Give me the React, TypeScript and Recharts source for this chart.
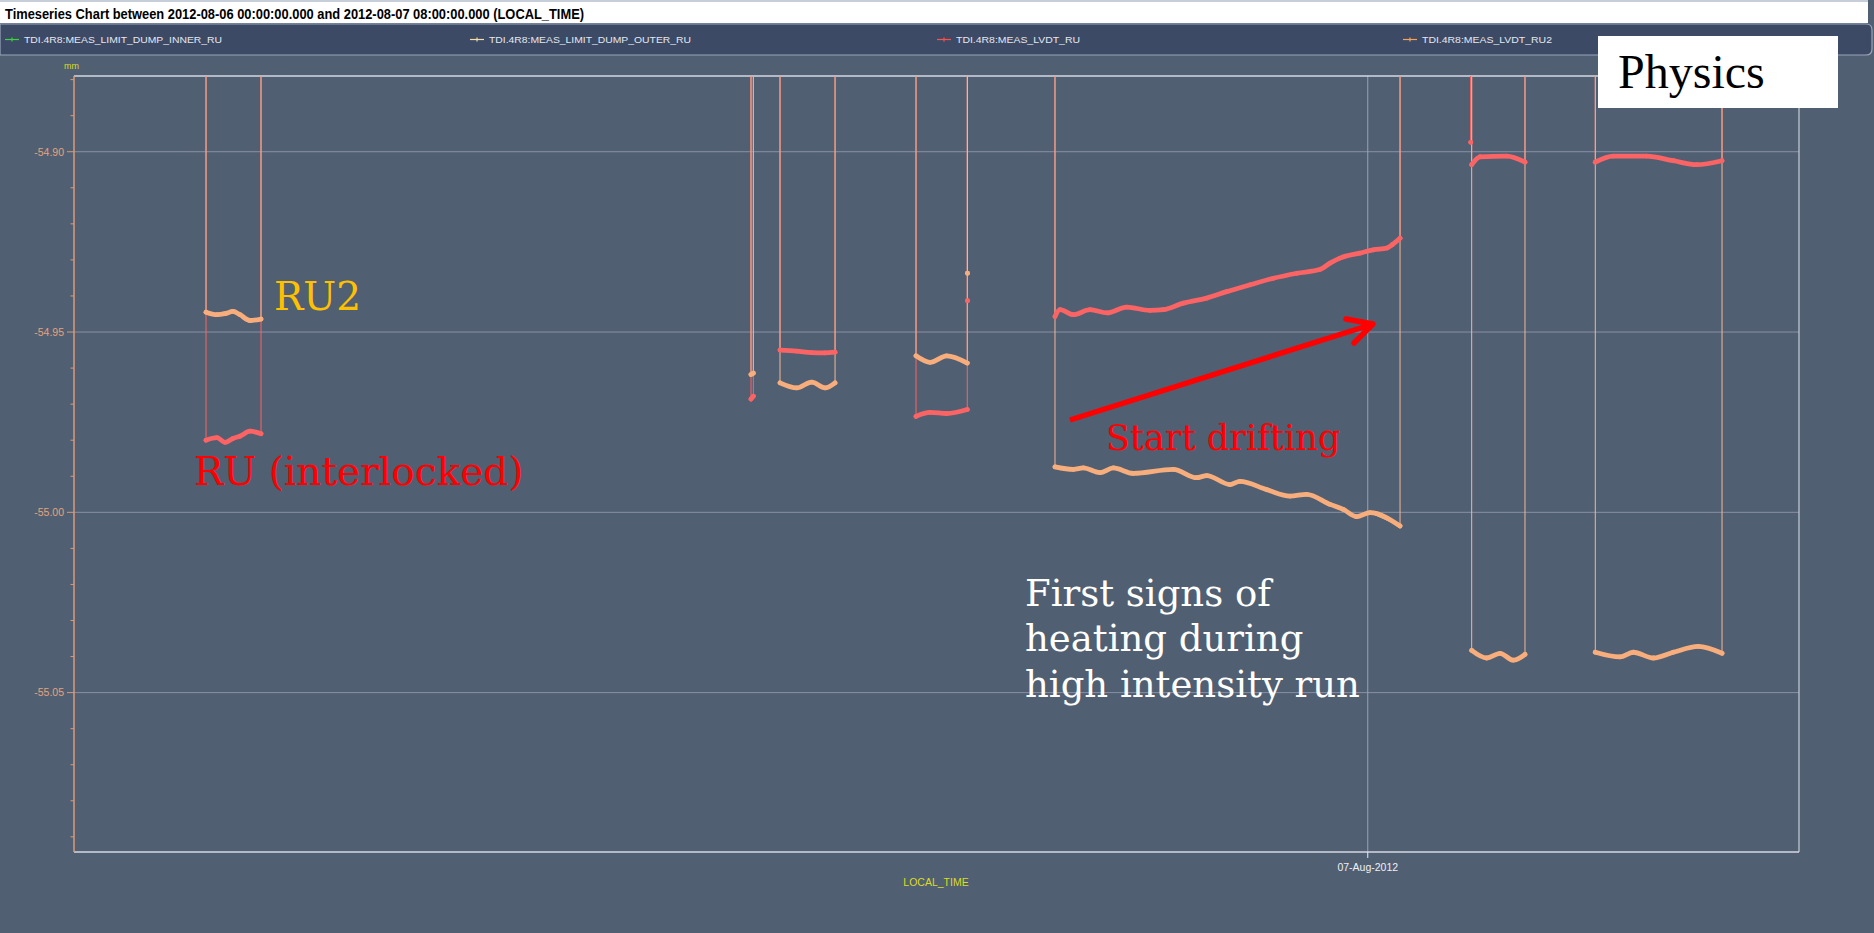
import React from 'react';
import { LineChart, Line, XAxis, YAxis, ReferenceLine } from 'recharts';

// time axis: hours since 2012-08-06 00:00 (LOCAL_TIME)
const timeDomain: [number, number] = [0, 32];
const xTicks = [24];
const xTickLabels = ['07-Aug-2012'];

// position axis in mm
const yDomain: [number, number] = [-55.0942, -54.879];
const yTicks = [
  -55.09, -55.08, -55.07, -55.06, -55.05, -55.04, -55.03, -55.02, -55.01, -55.0,
  -54.99, -54.98, -54.97, -54.96, -54.95, -54.94, -54.93, -54.92, -54.91, -54.9,
  -54.89, -54.88,
];
const yMajorTicks = [-55.05, -55.0, -54.95, -54.9];

// reading while the jaw is retracted, well above the plotted window
const PARKED = -54.6;

type Period = [number, number][];

// TDI.4R8:MEAS_LVDT_RU, one [hour, mm] list per period in position
const ruPeriods: Period[] = [
  [[2.449, -54.98], [2.653, -54.9793], [2.801, -54.9806], [2.95, -54.9795], [3.079, -54.9789], [3.265, -54.9775], [3.469, -54.9782]],
  [[12.559, -54.9686], [12.602, -54.9678]],
  [[13.097, -54.955], [13.407, -54.9553], [13.685, -54.9557], [13.932, -54.9558], [14.118, -54.9556]],
  [[15.62, -54.9734], [15.88, -54.9723], [16.189, -54.9726], [16.571, -54.9715]],
  [[16.575, -54.9413]],
  [
    [18.198, -54.9457], [18.291, -54.9438], [18.538, -54.9452], [18.848, -54.9438], [19.166, -54.9447],
    [19.528, -54.9431], [19.961, -54.944], [20.208, -54.9438], [20.579, -54.942], [21.013, -54.9406],
    [21.384, -54.9388], [21.817, -54.9369], [22.249, -54.9351], [22.69, -54.9337], [23.122, -54.9326],
    [23.3, -54.9309], [23.485, -54.9295], [23.856, -54.9281], [24.103, -54.9272], [24.36, -54.9267],
    [24.454, -54.9258], [24.599, -54.924],
  ],
  [[25.91, -54.8974]],
  [[25.928, -54.9036], [26.083, -54.9014], [26.578, -54.9012], [26.917, -54.9029]],
  [[28.221, -54.9029], [28.555, -54.9012], [29.175, -54.9012], [29.669, -54.9025], [30.103, -54.9036], [30.572, -54.9025]],
];

// TDI.4R8:MEAS_LVDT_RU2
const ru2Periods: Period[] = [
  [[2.449, -54.9445], [2.653, -54.9452], [2.801, -54.9449], [2.95, -54.9443], [3.079, -54.9452], [3.265, -54.9468], [3.469, -54.9464]],
  [[12.559, -54.9618], [12.602, -54.9614]],
  [[13.097, -54.9641], [13.407, -54.9655], [13.685, -54.9639], [13.932, -54.9655], [14.118, -54.9641]],
  [[15.62, -54.9566], [15.88, -54.9584], [16.189, -54.9566], [16.571, -54.9586]],
  [[16.575, -54.9337]],
  [
    [18.198, -54.9874], [18.538, -54.9881], [18.723, -54.9877], [19.033, -54.989], [19.28, -54.9877],
    [19.651, -54.9892], [20.393, -54.9881], [20.827, -54.9904], [21.013, -54.9898], [21.445, -54.9923],
    [21.63, -54.9914], [22.126, -54.9937], [22.558, -54.9955], [22.867, -54.995], [23.3, -54.9978],
    [23.546, -54.9992], [23.795, -55.0012], [24.042, -55.0001], [24.599, -55.0038],
  ],
  [[25.928, -55.0383], [26.207, -55.0404], [26.454, -55.0391], [26.7, -55.041], [26.917, -55.0394]],
  [[28.221, -55.0388], [28.68, -55.0401], [28.926, -55.0388], [29.298, -55.0404], [29.669, -55.0388], [30.133, -55.0372], [30.572, -55.0391]],
];

const legendItems = [
  { name: 'TDI.4R8:MEAS_LIMIT_DUMP_INNER_RU', color: '#3fd43f', x: 5, len: 198 },
  { name: 'TDI.4R8:MEAS_LIMIT_DUMP_OUTER_RU', color: '#f3dca8', x: 470, len: 202 },
  { name: 'TDI.4R8:MEAS_LVDT_RU', color: '#ff4f4f', x: 937, len: 124 },
  { name: 'TDI.4R8:MEAS_LVDT_RU2', color: '#f5a35a', x: 1403, len: 130 },
];

const RU_COLOR = '#fb6464';
const RU2_COLOR = '#f8ae7c';

// full trace: drops from the parked reading into each period and back out
const traceOf = (periods: Period[]) => [
  { t: timeDomain[0], v: PARKED },
  ...periods.flatMap((p) => [
    { t: p[0][0], v: PARKED },
    ...p.map(([t, v]) => ({ t, v })),
    { t: p[p.length - 1][0], v: PARKED },
  ]),
  { t: timeDomain[1], v: PARKED },
];

// only the in-position samples, broken between periods
const samplesOf = (periods: Period[]) =>
  periods.flatMap((p) => [...p.map(([t, v]) => ({ t, v })), { t: p[p.length - 1][0], v: null }]);

const sampleDot = (color: string) => (props: any) => {
  const { cx, cy, index, payload } = props;
  if (payload.v == null || cy == null) return <g key={index} />;
  return <circle key={index} cx={cx} cy={cy} r={2.4} fill={color} />;
};

const YTick = (props: any) => {
  const { x, y, payload } = props;
  const v = payload.value as number;
  const major = yMajorTicks.some((m) => Math.abs(m - v) < 1e-6);
  return (
    <g>
      <line x1={x - (major ? 7 : 3.5)} x2={x} y1={y} y2={y} stroke="#d99a78" />
      {major && (
        <text x={x - 10} y={y} dy={3.8} textAnchor="end" fontSize={10.5} fill="#e6a27c" fontFamily="Liberation Sans">
          {v.toFixed(2)}
        </text>
      )}
    </g>
  );
};

const XTick = (props: any) => {
  const { x, y, payload } = props;
  const label = xTickLabels[xTicks.indexOf(payload.value)] ?? '';
  return (
    <g>
      <line x1={x} x2={x} y1={y} y2={y + 6} stroke="#e8ebf0" />
      <text x={x} y={y + 19} textAnchor="middle" fontSize={10.5} fill="#eef0f4" fontFamily="Liberation Sans">
        {label}
      </text>
    </g>
  );
};

export default function App() {
  const ruTrace = traceOf(ruPeriods);
  const ru2Trace = traceOf(ru2Periods);
  const ruSamples = samplesOf(ruPeriods);
  const ru2Samples = samplesOf(ru2Periods);

  return (
    <div
      style={{
        position: 'absolute',
        left: 0,
        top: 0,
        width: 1874,
        height: 933,
        background: '#515f73',
        overflow: 'hidden',
        fontFamily: 'Liberation Sans, Arial, sans-serif',
      }}
    >
      <LineChart
        width={1874}
        height={933}
        margin={{ top: 76, right: 75, bottom: 51, left: 14 }}
        style={{ position: 'absolute', left: 0, top: 0 }}
      >
        <XAxis
          type="number"
          dataKey="t"
          domain={timeDomain}
          ticks={xTicks}
          allowDataOverflow
          height={30}
          tickSize={0}
          tickMargin={0}
          tickLine={false}
          tick={<XTick />}
          axisLine={{ stroke: '#d5d9e0', strokeWidth: 1.5 }}
        />
        <YAxis
          type="number"
          domain={yDomain}
          ticks={yTicks}
          interval={0}
          allowDataOverflow
          width={60}
          tickSize={0}
          tickMargin={0}
          tickLine={false}
          tick={<YTick />}
          axisLine={{ stroke: '#d99a78', strokeWidth: 1.5 }}
        />
        {yMajorTicks.map((v) => (
          <ReferenceLine key={v} y={v} stroke="#8890a4" strokeWidth={1} />
        ))}
        {xTicks.map((t) => (
          <ReferenceLine key={t} x={t} stroke="#9aa2b4" strokeWidth={1} />
        ))}
        <ReferenceLine y={yDomain[1]} stroke="#d5d9e0" strokeWidth={1.5} />
        <ReferenceLine x={timeDomain[1]} stroke="#c9cdd6" strokeWidth={1.2} />

        <Line data={ruTrace} dataKey="v" stroke={RU_COLOR} strokeWidth={1} dot={false} isAnimationActive={false} />
        <Line data={ru2Trace} dataKey="v" stroke="#f2b894" strokeWidth={1} dot={false} isAnimationActive={false} />
        <Line
          data={ruSamples}
          type="monotone"
          dataKey="v"
          stroke={RU_COLOR}
          strokeWidth={4.8}
          strokeLinecap="round"
          strokeLinejoin="round"
          dot={sampleDot(RU_COLOR)}
          isAnimationActive={false}
        />
        <Line
          data={ru2Samples}
          type="monotone"
          dataKey="v"
          stroke={RU2_COLOR}
          strokeWidth={4.8}
          strokeLinecap="round"
          strokeLinejoin="round"
          dot={sampleDot(RU2_COLOR)}
          isAnimationActive={false}
        />
      </LineChart>

      <svg
        width={1874}
        height={933}
        style={{ position: 'absolute', left: 0, top: 0, pointerEvents: 'none' }}
      >
        {/* title bar */}
        <rect x={0} y={0} width={1868} height={23} fill="#ffffff" />
        <line x1={0} x2={1868} y1={1} y2={1} stroke="#8d9db2" />
        <text x={5} y={18.5} fontSize={14} fontWeight="bold" fill="#000" textLength={579} lengthAdjust="spacingAndGlyphs">
          Timeseries Chart between 2012-08-06 00:00:00.000 and 2012-08-07 08:00:00.000 (LOCAL_TIME)
        </text>

        {/* legend bar */}
        <path d="M0 24 H1866 Q1872 24 1872 30 V49 Q1872 55 1866 55 H0 Z" fill="#3d4a66" stroke="#9aa6b8" strokeWidth={1.2} />
        {legendItems.map((it) => (
          <g key={it.name}>
            <line x1={it.x} x2={it.x + 14} y1={39.5} y2={39.5} stroke={it.color} strokeWidth={1.2} />
            <line x1={it.x + 7} x2={it.x + 7} y1={37.5} y2={41.5} stroke={it.color} strokeWidth={1.2} />
            <text
              x={it.x + 19}
              y={43}
              fontSize={9.5}
              fill="#e4e8ef"
              textLength={it.len}
              lengthAdjust="spacingAndGlyphs"
            >
              {it.name}
            </text>
          </g>
        ))}

        {/* axis titles */}
        <text x={64} y={69} fontSize={9} fill="#dcdc22">mm</text>
        <text x={936} y={886} fontSize={10.5} fill="#dcdc22" textAnchor="middle">LOCAL_TIME</text>

        {/* annotations */}
        <rect x={1598} y={36} width={240} height={72} fill="#ffffff" />
        <text x={1618} y={88} fontSize={48} fill="#000" fontFamily="Liberation Serif">Physics</text>

        <g fontFamily="DejaVu Serif">
          <text x={274} y={310} fontSize={39} fill="#ffc000">RU2</text>
          <text x={194} y={485} fontSize={39} fill="#ff0000">RU (interlocked)</text>
          <text x={1106} y={450} fontSize={35} fill="#ff0000">Start drifting</text>
          <text x={1025} y={606} fontSize={37} fill="#ffffff">First signs of</text>
          <text x={1025} y={651} fontSize={37} fill="#ffffff">heating during</text>
          <text x={1025} y={697} fontSize={37} fill="#ffffff">high intensity run</text>
        </g>

        <line x1={1070} y1={420} x2={1370} y2={325} stroke="#ff0000" strokeWidth={5.5} />
        <polyline
          points="1346,319 1373,324 1354,343"
          fill="none"
          stroke="#ff0000"
          strokeWidth={5.5}
          strokeLinecap="round"
          strokeLinejoin="round"
        />
      </svg>
    </div>
  );
}
